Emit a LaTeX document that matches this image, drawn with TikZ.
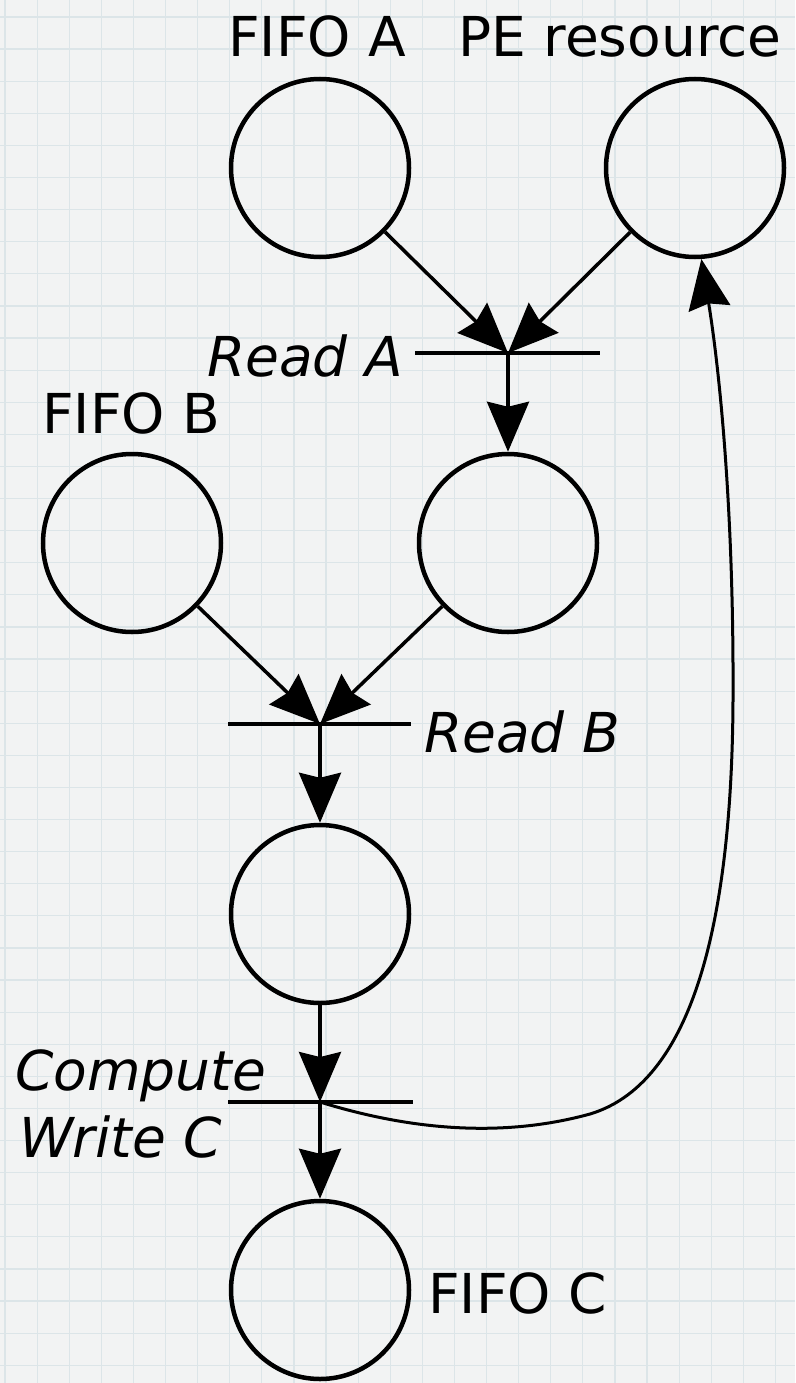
\documentclass[tikz,border=0pt]{standalone}
\usepackage{fontspec}
\setmainfont{DejaVu Sans}
\usetikzlibrary{arrows.meta}
\definecolor{paper}{HTML}{F2F3F3}
\definecolor{gridc}{HTML}{DCE5E8}
\tikzset{
  place/.style={circle,draw=black,line width=4.5pt,minimum size=178pt,inner sep=0pt},
  bar/.style={line width=4pt},
  arr/.style={line width=3.5pt,-{Stealth[length=50pt,width=42pt,inset=5pt]}},
  lbl/.style={inner sep=0pt,font=\fontsize{55}{60}\selectfont},
  tlbl/.style={inner sep=0pt,font=\fontsize{55}{60}\selectfont\itshape},
  gridline/.style={gridc,line width=1.2pt}
}
\begin{document}
\begin{tikzpicture}[x=1pt,y=-1pt]
\useasboundingbox (0,0) rectangle (795,1383);
\fill[paper] (0,0) rectangle (795,1383);
\begin{scope}
\clip (0,0) rectangle (795,1383);
\foreach \i in {0,...,24}{\draw[gridline] ({5+32.1*\i},0) -- ({5+32.1*\i},1383);}
\foreach \j in {0,...,42}{\draw[gridline] (0,{17+32.1*\j}) -- (795,{17+32.1*\j});}
\end{scope}

% places
\node[place] (fa) at (320,168) {};
\node[place] (pe) at (695,168) {};
\node[place] (fb) at (132,543) {};
\node[place] (m1) at (508,543) {};
\node[place] (m2) at (320,914) {};
\node[place] (fc) at (320,1290) {};

% transitions
\coordinate (jA) at (508,353);
\coordinate (jB) at (320,724);
\coordinate (jC) at (320,1102);
\coordinate (jAl) at (415,353);
\coordinate (jAr) at (600,353);
\coordinate (jBl) at (228,724);
\coordinate (jBr) at (411,724);
\coordinate (jCl) at (228,1102);
\coordinate (jCr) at (413,1102);
\draw[bar] (jAl) -- (jAr);
\draw[bar] (jBl) -- (jBr);
\draw[bar] (jCl) -- (jCr);

% labels
\node[lbl,anchor=base west] (lfa) at (228,57) {FIFO A};
\node[lbl,anchor=base west] (lpe) at (458,57) {PE resource};
\node[lbl,anchor=base west] (lfb) at (42,433) {FIFO B};
\node[lbl,anchor=base west] (lfc) at (428,1313) {FIFO C};
\node[tlbl,anchor=base east] (lra) at (403,376) {Read A};
\node[tlbl,anchor=base west] (lrb) at (424,752) {Read B};
\node[tlbl,anchor=base west] (lcp) at (15,1090) {Compute};
\node[tlbl,anchor=base west] (lwc) at (19,1157) {Write C};

% arcs
\draw[arr] (fa) -- (jA);
\draw[arr] (pe) -- (jA);
\draw[arr] (jA) -- (m1);
\draw[arr] (fb) -- (jB);
\draw[arr] (m1) -- (jB);
\draw[arr] (jB) -- (m2);
\draw[arr] (m2) -- (jC);
\draw[arr] (jC) -- (fc);
\draw[arr,line width=3pt] (jC) .. controls (420,1133) and (510,1136) .. (590,1114)
  .. controls (700,1081) and (732,900) .. (733,700)
  .. controls (734,500) and (718,360) .. (pe.-86);
\end{tikzpicture}
\end{document}
